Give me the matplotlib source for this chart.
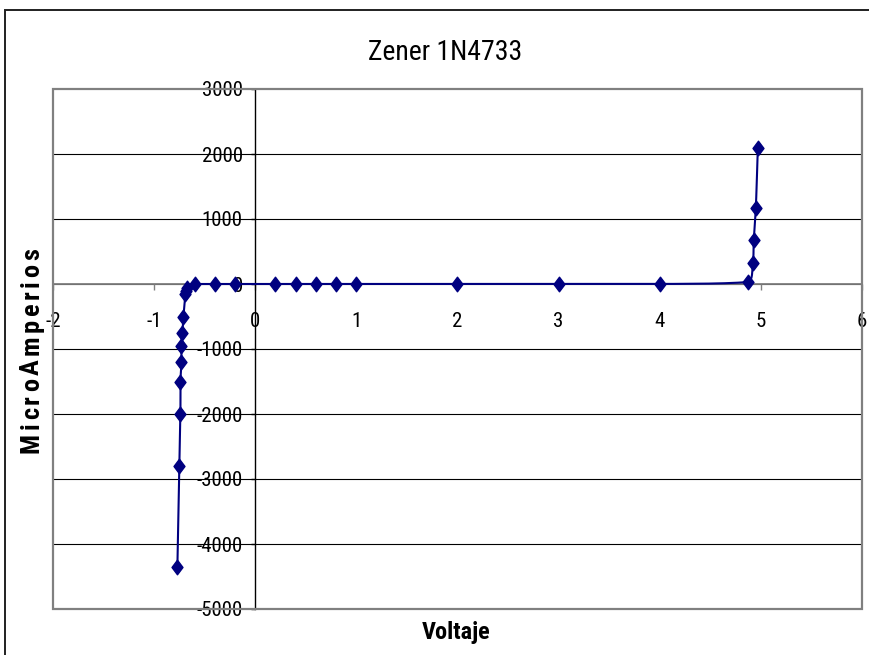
import numpy as np
import matplotlib
matplotlib.use("Agg")
import matplotlib.pyplot as plt
from matplotlib.path import Path
from matplotlib.patches import Rectangle

# Measured characteristic of the 1N4733 zener diode
voltaje = [-0.77, -0.75, -0.74, -0.74, -0.73, -0.73, -0.72, -0.71, -0.69, -0.68,
           -0.67, -0.60, -0.40, -0.20, 0.20, 0.40, 0.60, 0.80, 1.00, 2.00,
           3.00, 4.00, 4.87, 4.92, 4.93, 4.95, 4.97]
micro_amperios = [-4350, -2800, -2000, -1500, -1200, -950, -750, -500, -160, -110,
                  -60, 0, 0, 0, 0, 0, 0, 0, 0, 0,
                  0, 0, 30, 320, 680, 1170, 2100]

x_ticks = [-2, -1, 0, 1, 2, 3, 4, 5, 6]
y_ticks = [-5000, -4000, -3000, -2000, -1000, 0, 1000, 2000, 3000]

titulo = "Zener 1N4733"
etiqueta_x = "Voltaje"
etiqueta_y = "MicroAmperios"

NARROW = ["Roboto Condensed", "Archivo Narrow", "Liberation Sans", "DejaVu Sans"]
plt.rcParams["font.family"] = NARROW

W, H, DPI = 870, 655, 100
fig = plt.figure(figsize=(W / DPI, H / DPI), dpi=DPI)
fig.patch.set_facecolor("white")

# outer chart frame (runs off the right and bottom edges)
fig.patches.append(Rectangle((5 / W, -0.1), 1.2, 1.1 - 10 / H,
                             transform=fig.transFigure, fill=False,
                             lw=1.4, ec="#202020"))

left, right, top, bottom = 53, 862, 89, 609
ax = fig.add_axes([left / W, 1 - bottom / H, (right - left) / W, (bottom - top) / H])
ax.set_xlim(x_ticks[0], x_ticks[-1])
ax.set_ylim(y_ticks[0], y_ticks[-1])

# horizontal gridlines
for yv in y_ticks[1:-1]:
    ax.axhline(yv, color="black", lw=0.8, zorder=1)

# axes crossing at the origin
for s in ("top", "right"):
    ax.spines[s].set_visible(False)
ax.spines["left"].set_position(("data", 0))
ax.spines["bottom"].set_position(("data", 0))
ax.spines["left"].set_color("black")
ax.spines["left"].set_linewidth(1.0)
ax.spines["bottom"].set_color("#808080")
ax.spines["bottom"].set_linewidth(1.3)
ax.spines["left"].set_zorder(2)
ax.spines["bottom"].set_zorder(2)

# plot-area border
ax.add_patch(Rectangle((0, 0), 1, 1, transform=ax.transAxes, fill=False,
                       ec="#808080", lw=1.6, zorder=3, clip_on=False))

ax.set_xticks(x_ticks)
ax.set_yticks(y_ticks)
ax.set_xticklabels([str(v) for v in x_ticks])
ax.set_yticklabels([str(v) for v in y_ticks])
ax.tick_params(axis="x", direction="out", length=4, width=1.0, color="#808080",
               pad=16, labelsize=15)
ax.tick_params(axis="y", direction="out", length=3, width=1.0, color="black",
               pad=6, labelsize=15)

# smoothed line through the points: cubic Bezier with chord-weighted tangents,
# computed in pixel space so both axes count equally
sx = (right - left) / (x_ticks[-1] - x_ticks[0])
sy = (bottom - top) / (y_ticks[-1] - y_ticks[0])
P = np.column_stack([np.array(voltaje) * sx, np.array(micro_amperios) * sy])
Pe = np.vstack([P[0], P, P[-1]])
t = np.linspace(0, 1, 40)[:, None]
segs = []
for i in range(len(P) - 1):
    p0, p1, p2, p3 = Pe[i], Pe[i + 1], Pe[i + 2], Pe[i + 3]
    d01 = np.linalg.norm(p1 - p0)
    d12 = np.linalg.norm(p2 - p1)
    d23 = np.linalg.norm(p3 - p2)
    c1 = p1 + (p2 - p0) * (d12 / max(d01 + d12, 1e-9)) / 3.0
    c2 = p2 - (p3 - p1) * (d12 / max(d12 + d23, 1e-9)) / 3.0
    # keep the curve from overshooting vertically between neighbouring points
    lo, hi = min(p1[1], p2[1]), max(p1[1], p2[1])
    c1[1] = np.clip(c1[1], lo, hi)
    c2[1] = np.clip(c2[1], lo, hi)
    b = ((1 - t) ** 3) * p1 + 3 * ((1 - t) ** 2) * t * c1 + 3 * (1 - t) * t ** 2 * c2 + t ** 3 * p2
    segs.append(b if i == 0 else b[1:])
curve = np.vstack(segs)
ax.plot(curve[:, 0] / sx, curve[:, 1] / sy, color="#000080", lw=1.5, zorder=4,
        solid_capstyle="round")

diamond = Path([(0, 1), (0.75, 0), (0, -1), (-0.75, 0), (0, 1)],
               [Path.MOVETO, Path.LINETO, Path.LINETO, Path.LINETO, Path.CLOSEPOLY])
ax.plot(voltaje, micro_amperios, linestyle="none", marker=diamond, markersize=10.5,
        color="#000080", markeredgecolor="#000080", zorder=5)

# title and axis titles
fig.text(445 / W, 1 - 52 / H, titulo, ha="center", va="center", fontsize=20,
         family=NARROW)
fig.text(456 / W, 1 - 632 / H, etiqueta_x, ha="center", va="center", fontsize=17.5,
         fontweight="bold", family=NARROW)

# letter-spaced vertical axis title
renderer = fig.canvas.get_renderer()
widths = []
for ch in etiqueta_y:
    tmp = fig.text(0, 0, ch, fontsize=19, fontweight="bold", family=NARROW)
    widths.append(tmp.get_window_extent(renderer).width)
    tmp.remove()
span = 205.0
gap = (span - sum(widths)) / (len(etiqueta_y) - 1)
ypix = H - 453.0
for ch, w in zip(etiqueta_y, widths):
    fig.text(32 / W, (ypix + w / 2) / H, ch, rotation=90, ha="center", va="center",
             fontsize=19, fontweight="bold", family=NARROW)
    ypix += w + gap

fig.savefig("out.png", dpi=DPI)
